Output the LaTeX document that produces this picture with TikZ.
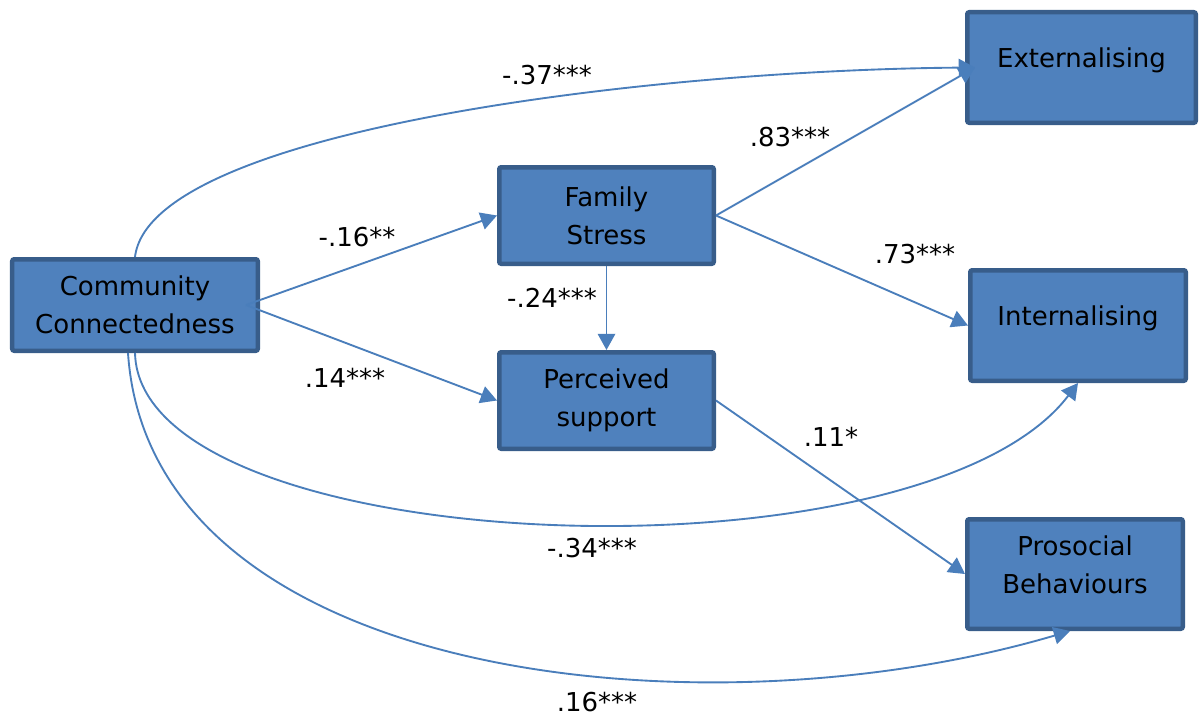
\documentclass[tikz,border=0pt]{standalone}
\usepackage{fontspec}
\setmainfont{DejaVu Sans}
\usepackage{xcolor}
\usetikzlibrary{arrows.meta,positioning}
\definecolor{boxfill}{HTML}{4F81BD}
\definecolor{boxline}{HTML}{385D8A}
\definecolor{linkblue}{HTML}{4A7EBB}

\begin{document}
\begin{tikzpicture}[
  x=0.4pt, y=-0.4pt,
  font=\fontsize{10.4}{15.2}\selectfont,
  box/.style={draw=boxline, fill=boxfill, line width=1.8pt,
      rounded corners=0.8pt, align=center, inner sep=2pt},
  midbox/.style={box, minimum width=85.8pt, minimum height=38.6pt},
  outbox/.style={box, minimum width=86.2pt, minimum height=44.2pt,
      text height=8pt, text depth=8pt},
  arrow/.style={-{Triangle[length=6.5pt,width=7pt]}, draw=linkblue,
      line width=0.75pt},
  weight/.style={inner sep=1pt}
]
\useasboundingbox (0,0) rectangle (1200,720);
\node[box, minimum width=98.2pt, minimum height=36.6pt] (cc) at (135,305)
  {Community\\Connectedness};
\node[midbox] (fs) at (606.5,215.5) {Family\\Stress};
\node[midbox, below=33.6pt of fs] (ps) {Perceived\\support};
\node[outbox, minimum width=91.4pt] (ext) at (1081.5,67.5) {Externalising};
\node[outbox] (int) at (1078,325.5) {Internalising};
\node[outbox, minimum height=43.8pt, text height=17.8pt, text depth=2pt]
  (pro) at (1075,574) {Prosocial\\Behaviours};
\draw[arrow] ([xshift=-5.6pt]cc.east) -- (fs.west);
\draw[arrow] ([xshift=-5.6pt]cc.east) -- (ps.west);
\draw[arrow] (fs.south) -- (ps.north);
\draw[arrow] (fs.east) -- ([xshift=4pt]ext.west);
\draw[arrow] (fs.east) -- (int.west);
\draw[arrow] (ps.east) -- (pro.west);
\draw[arrow] (cc.north) .. controls (150,130) and (650,70) .. ([xshift=4pt]ext.west);
\draw[arrow] (cc.south) .. controls (140,560) and (920,590) .. (int.south);
\draw[arrow] ([xshift=-2.8pt]cc.south) .. controls (150,680) and (700,740)
  .. ([xshift=-2pt]pro.south);
\node[weight] (w37) at (547,75) {-.37***};
\node[weight] (w16a) at (357,237) {-.16**};
\node[weight] (w14) at (345,378) {.14***};
\node[weight] (w24) at (552,298) {-.24***};
\node[weight] (w83) at (790,137) {.83***};
\node[weight] (w73) at (915,254) {.73***};
\node[weight] (w11) at (831,437) {.11*};
\node[weight] (w34) at (592,548) {-.34***};
\node[weight] (w16b) at (597,702) {.16***};
\end{tikzpicture}
\end{document}
